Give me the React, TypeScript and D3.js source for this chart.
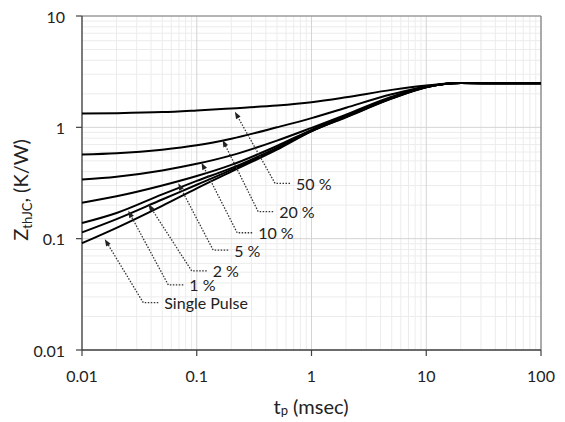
import React from "react";
import * as d3 from "d3";

const tp = [0.01, 0.02, 0.05, 0.1, 0.2, 0.5, 1, 2, 5, 10, 20, 50, 100];
const d50 = [1.33, 1.34, 1.37, 1.42, 1.48, 1.57, 1.68, 1.86, 2.17, 2.37, 2.5, 2.49, 2.49];
const d20 = [0.57, 0.585, 0.63, 0.69, 0.79, 1.0, 1.21, 1.5, 1.98, 2.33, 2.5, 2.49, 2.49];
const d10 = [0.34, 0.36, 0.41, 0.47, 0.56, 0.76, 0.99, 1.3, 1.88, 2.31, 2.5, 2.49, 2.49];
const d5 = [0.21, 0.24, 0.3, 0.365, 0.46, 0.68, 0.95, 1.27, 1.85, 2.3, 2.5, 2.49, 2.49];
const d2 = [0.138, 0.17, 0.25, 0.33, 0.43, 0.655, 0.93, 1.25, 1.83, 2.3, 2.5, 2.49, 2.49];
const d1 = [0.114, 0.15, 0.225, 0.305, 0.415, 0.645, 0.925, 1.24, 1.82, 2.29, 2.5, 2.49, 2.49];
const dSingle = [0.091, 0.125, 0.197, 0.283, 0.4, 0.63, 0.92, 1.23, 1.81, 2.29, 2.5, 2.49, 2.49];
const seriesList = [d50, d20, d10, d5, d2, d1, dSingle];

const xTicks = [0.01, 0.1, 1, 10, 100];
const yTicks = [0.01, 0.1, 1, 10];

// annotations: label, arrow tip (data), bend (data)
const annLabels = ["50 %", "20 %", "10 %", "5 %", "2 %", "1 %", "Single Pulse"];
const annTipX = [0.215, 0.168, 0.11, 0.069, 0.0379, 0.0253, 0.0158];
const annTipY = [1.38, 0.77, 0.481, 0.314, 0.205, 0.178, 0.099];
const annBendX = [0.481, 0.343, 0.225, 0.139, 0.0904, 0.0565, 0.0342];
const annBendY = [0.314, 0.175, 0.113, 0.079, 0.0513, 0.0384, 0.0266];

const W = 565;
const H = 422;
const L = 82, R = 541, T = 16, B = 350;

export default function App() {
  const x = d3.scaleLog().domain([0.01, 100]).range([L, R]);
  const y = d3.scaleLog().domain([0.01, 10]).range([B, T]);
  const line = d3
    .line<number>()
    .x((_, i) => x(tp[i]))
    .y((d) => y(d))
    .curve(d3.curveMonotoneX);

  const minorX: number[] = [];
  for (let e = -2; e < 2; e++) for (let m = 2; m <= 9; m++) minorX.push(m * Math.pow(10, e));
  const minorY: number[] = [];
  for (let e = -2; e < 1; e++) for (let m = 2; m <= 9; m++) minorY.push(m * Math.pow(10, e));

  const font = "Lato, 'Open Sans', sans-serif";

  return (
    <svg width={W} height={H} style={{ position: "absolute", left: 0, top: 0, background: "#fff" }} fontFamily={font}>
      <rect x={0} y={0} width={W} height={H} fill="#fff" />
      {minorX.map((v, i) => (
        <line key={"mx" + i} x1={x(v)} x2={x(v)} y1={T} y2={B} stroke="#ececec" strokeWidth={1} />
      ))}
      {minorY.map((v, i) => (
        <line key={"my" + i} x1={L} x2={R} y1={y(v)} y2={y(v)} stroke="#ececec" strokeWidth={1} />
      ))}
      {xTicks.map((v, i) => (
        <line key={"gx" + i} x1={x(v)} x2={x(v)} y1={T} y2={B} stroke="#d4d4d4" strokeWidth={1} />
      ))}
      {yTicks.map((v, i) => (
        <line key={"gy" + i} x1={L} x2={R} y1={y(v)} y2={y(v)} stroke="#d4d4d4" strokeWidth={1} />
      ))}
      <line x1={L} x2={R} y1={T} y2={T} stroke="#808080" strokeWidth={1.2} />
      <line x1={R} x2={R} y1={T} y2={B} stroke="#808080" strokeWidth={1.2} />
      <line x1={L} x2={L} y1={T} y2={B} stroke="#404040" strokeWidth={1.3} />
      <line x1={L} x2={R} y1={B} y2={B} stroke="#404040" strokeWidth={1.3} />
      {xTicks.map((v, i) => (
        <g key={"xt" + i}>
          <line x1={x(v)} x2={x(v)} y1={B} y2={B + 6} stroke="#404040" strokeWidth={1.2} />
          <text x={x(v)} y={375} textAnchor="middle" dominantBaseline="central" fontSize={16} fill="#222">
            {String(v)}
          </text>
        </g>
      ))}
      {yTicks.map((v, i) => (
        <g key={"yt" + i}>
          <line x1={L - 6} x2={L} y1={y(v)} y2={y(v)} stroke="#404040" strokeWidth={1.2} />
          <text x={65} y={y(v)} textAnchor="end" dominantBaseline="central" fontSize={16} fill="#222">
            {String(v)}
          </text>
        </g>
      ))}
      {seriesList.map((s, i) => (
        <path key={"s" + i} d={line(s) || ""} fill="none" stroke="#000" strokeWidth={2} />
      ))}
      {annLabels.map((lab, i) => {
        const tx = x(annTipX[i]);
        const ty = y(annTipY[i]);
        const bx = x(annBendX[i]);
        const by = y(annBendY[i]);
        const ang = Math.atan2(ty - by, tx - bx);
        const len = 7, hw = 2.6;
        const p1x = tx - len * Math.cos(ang) + hw * Math.sin(ang);
        const p1y = ty - len * Math.sin(ang) - hw * Math.cos(ang);
        const p2x = tx - len * Math.cos(ang) - hw * Math.sin(ang);
        const p2y = ty - len * Math.sin(ang) + hw * Math.cos(ang);
        const hx = bx + 15;
        return (
          <g key={"a" + i}>
            <path
              d={`M${hx},${by}L${bx},${by}L${tx - 5 * Math.cos(ang)},${ty - 5 * Math.sin(ang)}`}
              fill="none"
              stroke="#333"
              strokeWidth={1.3}
              strokeDasharray="1.5,1.5"
            />
            <path d={`M${tx},${ty}L${p1x},${p1y}L${p2x},${p2y}Z`} fill="#222" />
            <text x={hx + 6} y={by} dominantBaseline="central" fontSize={16} fill="#222">
              {lab}
            </text>
          </g>
        );
      })}
      <text x={311} y={406} textAnchor="middle" dominantBaseline="central" fontSize={20} fill="#222">
        t<tspan fontSize={13} dy={4}>p</tspan>
        <tspan dy={-4}> (msec)</tspan>
      </text>
      <text transform={`translate(28,190) rotate(-90)`} textAnchor="middle" fontSize={20} fill="#222">
        Z<tspan fontSize={13} dy={4}>thJC</tspan>
        <tspan dy={-4}>, (K/W)</tspan>
      </text>
    </svg>
  );
}
